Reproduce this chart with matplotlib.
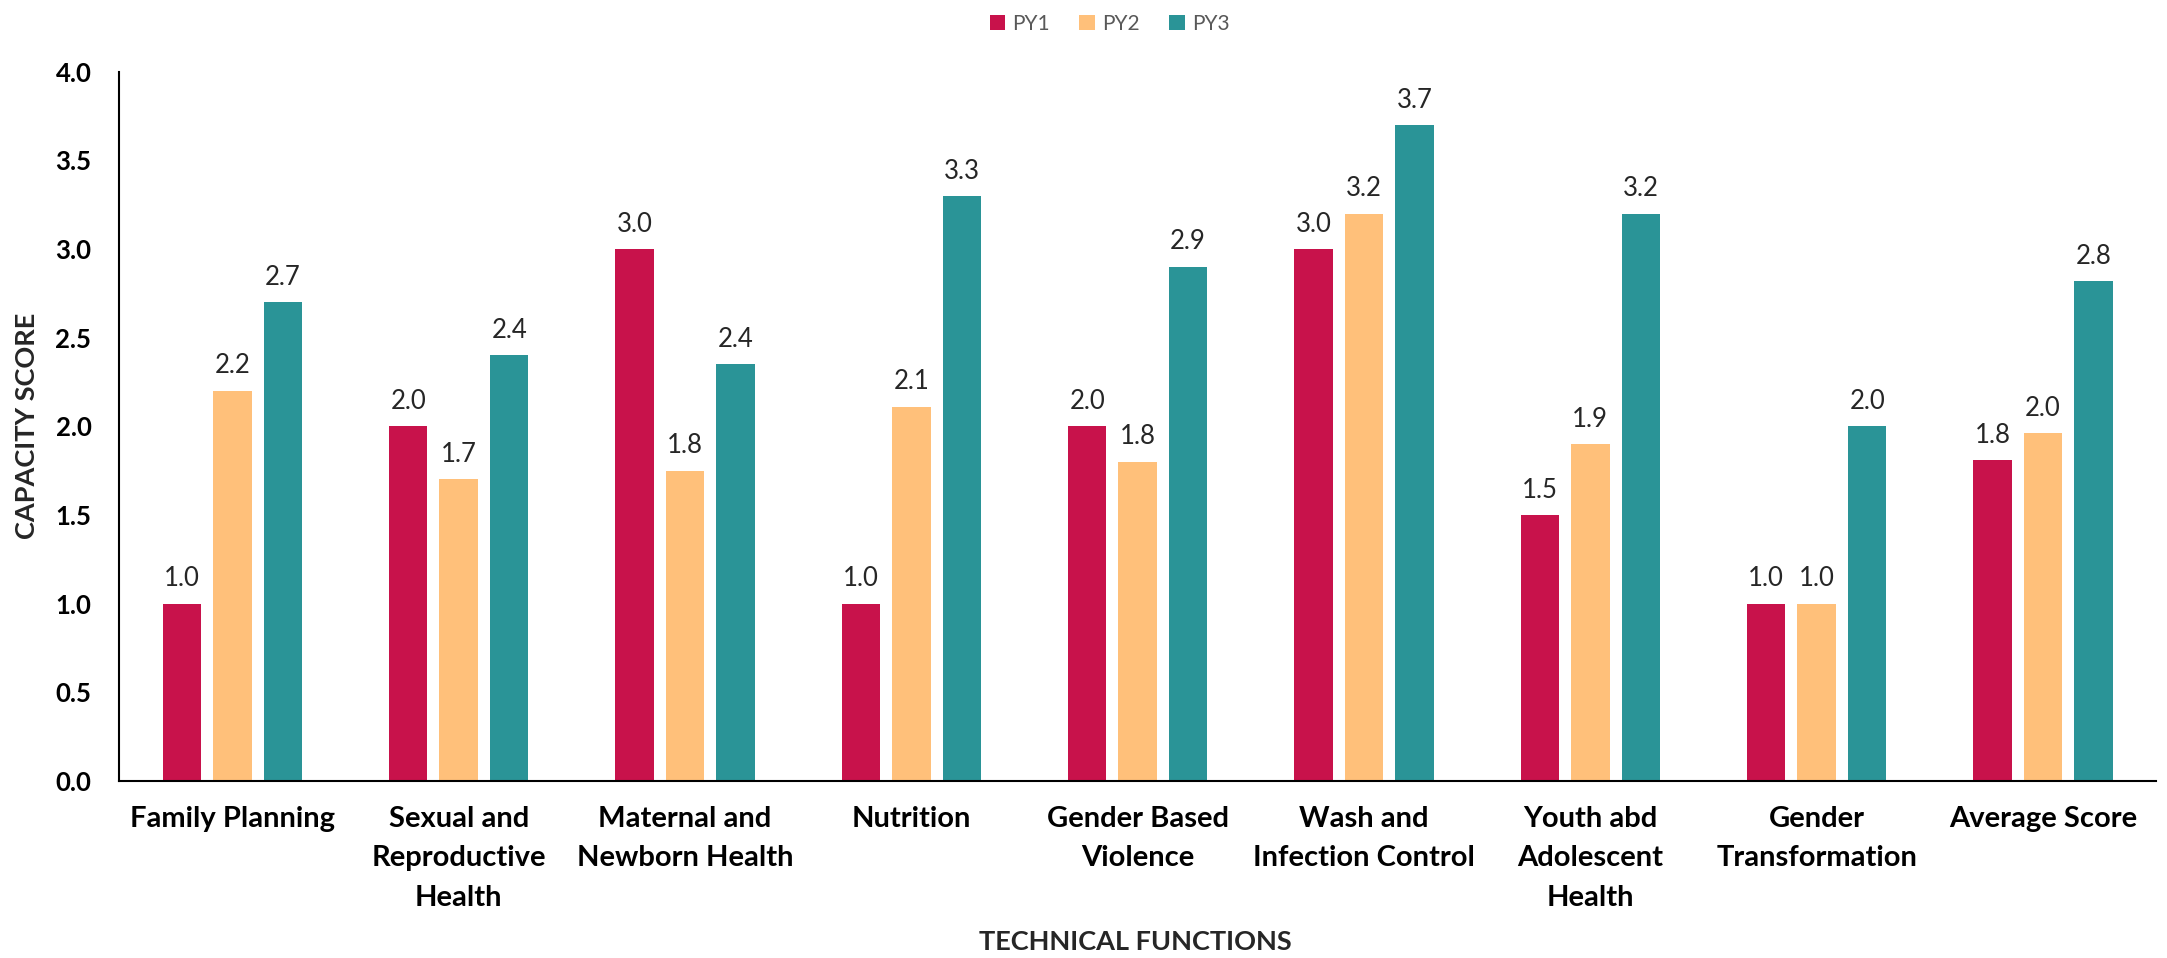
import matplotlib.pyplot as plt
import numpy as np

plt.rcParams['font.family'] = ['Lato', 'DejaVu Sans']

categories = ["Family Planning", "Sexual and\nReproductive\nHealth", "Maternal and\nNewborn Health",
              "Nutrition", "Gender Based\nViolence", "Wash and\nInfection Control",
              "Youth abd\nAdolescent\nHealth", "Gender\nTransformation", "Average Score"]
py1 = [1.0, 2.0, 3.0, 1.0, 2.0, 3.0, 1.5, 1.0, 1.81]
py2 = [2.2, 1.7, 1.75, 2.11, 1.8, 3.2, 1.9, 1.0, 1.96]
py3 = [2.7, 2.4, 2.35, 3.3, 2.9, 3.7, 3.2, 2.0, 2.82]
series = ["PY1", "PY2", "PY3"]
colors = ["#C8124B", "#FFC07A", "#2A9497"]

fig = plt.figure(figsize=(21.67, 9.58), dpi=100)
ax = fig.add_axes([0.055, 0.185, 0.94, 0.74])

x = np.arange(len(categories))
pitch = 0.223
width = 0.17
for k, (vals, name, col) in enumerate(zip([py1, py2, py3], series, colors)):
    bars = ax.bar(x + (k - 1) * pitch, vals, width, color=col, label=name)
    for b, v in zip(bars, vals):
        ax.text(b.get_x() + b.get_width() / 2, v + 0.07, f"{v:.1f}",
                ha='center', va='bottom', fontsize=18.5, color='#262626')

ax.set_xlim(-0.5, len(categories) - 0.5)
ax.set_ylim(0, 4.0)
yt = np.arange(0, 4.01, 0.5)
ax.set_yticks(yt)
ax.set_yticklabels([f"{t:.1f}" for t in yt], fontsize=18.5, fontweight='bold')
ax.set_xticks(x)
ax.set_xticklabels(categories, fontsize=21, fontweight='bold', va='top', linespacing=1.65)
ax.tick_params(axis='y', length=0, pad=20)
ax.tick_params(axis='x', length=0, pad=18)
for s in ['top', 'right']:
    ax.spines[s].set_visible(False)
ax.spines['left'].set_linewidth(1.5)
ax.spines['bottom'].set_linewidth(1.5)

ax.set_ylabel("CAPACITY SCORE", fontsize=19.5, fontweight='bold', labelpad=12, color='#262626')
fig.text(0.524, 0.004, "TECHNICAL FUNCTIONS", ha='center', va='bottom', fontsize=19.5,
         fontweight='bold', color='#262626')

fig.legend(loc='upper center', bbox_to_anchor=(0.512, 1.005), ncol=3, frameon=False,
           fontsize=15, handlelength=0.75, handleheight=0.75, columnspacing=1.4,
           handletextpad=0.35, labelcolor='#595959')

fig.savefig("out.png", dpi=100)
